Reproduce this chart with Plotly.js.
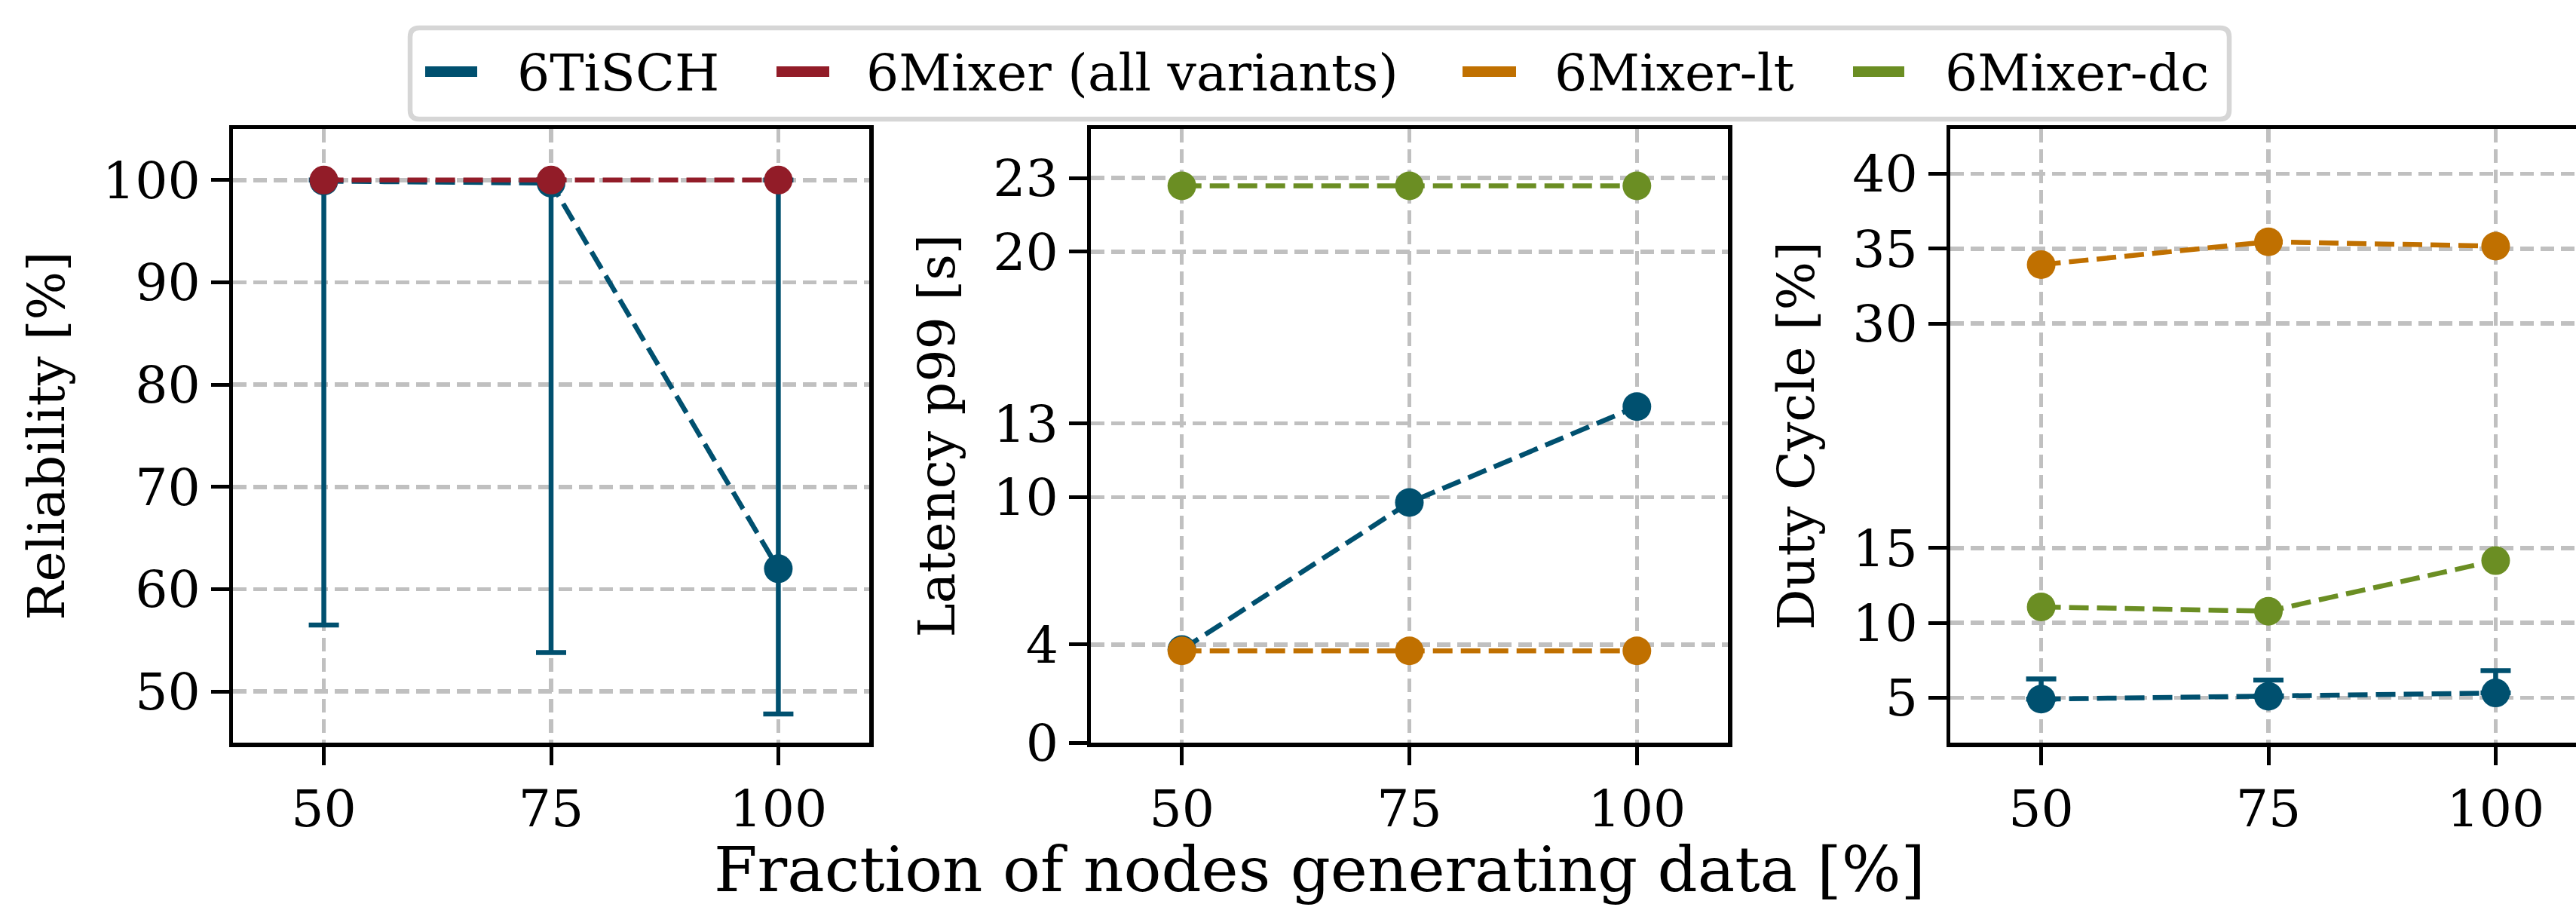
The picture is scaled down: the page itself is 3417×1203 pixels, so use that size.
<!DOCTYPE html>
<html>
<head>
<meta charset="utf-8">
<script src="https://cdn.plot.ly/plotly-3.0.1.min.js"></script>
<style>
html, body { margin: 0; padding: 0; overflow: hidden; background: #fff; }
#chart { width: 3440px; height: 1203px; }
</style>
</head>
<body>
<div id="chart"></div>
<script>
// ---- data ----
const fraction = [50, 75, 100];

const seriesNames = ["6TiSCH", "6Mixer (all variants)", "6Mixer-lt", "6Mixer-dc"];

// Reliability [%]
const relTisch = [99.9, 99.7, 62.0];
const relTischLow = [56.5, 53.8, 47.8];
const relTischHigh = [100, 100, 100];
const relMixer = [100, 100, 100];

// Latency p99 [s]
const latTisch = [3.79, 9.78, 13.69];
const latMixerLt = [3.74, 3.74, 3.74];
const latMixerDc = [22.68, 22.68, 22.68];

// Duty cycle [%]
const dutyTisch = [4.91, 5.10, 5.32];
const dutyTischHigh = [6.26, 6.18, 6.81];
const dutyMixerLt = [33.93, 35.46, 35.17];
const dutyMixerDc = [11.07, 10.78, 14.16];

// tick labels
const relTicks = [50, 60, 70, 80, 90, 100];
const latTicks = [0, 4, 10, 13, 20, 23];
const dutyTicks = [5, 10, 15, 30, 35, 40];

const yTitles = ["Reliability [%]", "Latency p99 [s]", "Duty Cycle [%]"];
const xTitle = "Fraction of nodes generating data [%]";

// ---- style ----
const colors = {"6TiSCH": "#00506F", "6Mixer (all variants)": "#921C28", "6Mixer-lt": "#C07000", "6Mixer-dc": "#6B8E23"};
const FONT = "DejaVu Serif";
const W = 3440, H = 1203;
const px = v => v / W;            // horizontal pixel -> paper
const py = v => 1 - v / H;        // vertical pixel (from top) -> paper
const dx = (a, b) => [px(a), px(b)];
const dy = (top, bottom) => [py(bottom), py(top)];

function series(x, y, name, xa, ya, extra) {
  const t = {
    x: x, y: y, name: name, xaxis: xa, yaxis: ya, type: "scatter",
    mode: "lines+markers", showlegend: false,
    line: {color: colors[name], width: 6.5, dash: "26px,11px"},
    marker: {color: colors[name], size: 38}
  };
  return Object.assign(t, extra || {});
}

const relErr = {
  type: "data", symmetric: false,
  array: relTisch.map((v, i) => relTischHigh[i] - v),
  arrayminus: relTisch.map((v, i) => v - relTischLow[i]),
  color: colors["6TiSCH"], thickness: 6.5, width: 20
};
const dutyErr = {
  type: "data", symmetric: false,
  array: dutyTisch.map((v, i) => dutyTischHigh[i] - v),
  arrayminus: dutyTisch.map(() => 0),
  color: colors["6TiSCH"], thickness: 6.5, width: 20
};

const traces = [
  series(fraction, relTisch, "6TiSCH", "x", "y", {error_y: relErr}),
  series(fraction, relMixer, "6Mixer (all variants)", "x", "y"),
  series(fraction, latTisch, "6TiSCH", "x2", "y2"),
  series(fraction, latMixerLt, "6Mixer-lt", "x2", "y2"),
  series(fraction, latMixerDc, "6Mixer-dc", "x2", "y2"),
  series(fraction, dutyTisch, "6TiSCH", "x3", "y3", {error_y: dutyErr}),
  series(fraction, dutyMixerLt, "6Mixer-lt", "x3", "y3"),
  series(fraction, dutyMixerDc, "6Mixer-dc", "x3", "y3")
];

function xax(domain) {
  return {
    domain: domain, range: [40, 110], tickvals: fraction, ticktext: fraction.map(String),
    showline: true, linecolor: "black", linewidth: 5.5, mirror: true,
    ticks: "outside", ticklen: 24, tickwidth: 5, tickcolor: "black",
    showgrid: true, gridcolor: "#c0c0c0", gridwidth: 5.5, griddash: "18px,9px",
    zeroline: false, tickfont: {family: FONT, size: 68, color: "black"}
  };
}
function yax(domain, range, ticks, title, anchor) {
  return {
    domain: domain, range: range, tickvals: ticks, ticktext: ticks.map(String), anchor: anchor,
    showline: true, linecolor: "black", linewidth: 5.5, mirror: true,
    ticks: "outside", ticklen: 24, tickwidth: 5, tickcolor: "black",
    showgrid: true, gridcolor: "#c0c0c0", gridwidth: 5.5, griddash: "18px,9px",
    zeroline: false, tickfont: {family: FONT, size: 68, color: "black"},
    title: {text: title, font: {family: FONT, size: 68, color: "black"}, standoff: 30}
  };
}

// ---- legend (frame, handles, labels) ----
const legBox = {x0: 544, x1: 2957, y0: 37, y1: 158, r: 12};
const legHandleX = [[564, 633], [1030, 1100], [1940, 2011], [2458, 2526]];
const legTextX = [685, 1148, 2061, 2579];
const legY = 95;

function roundRectPath(b) {
  const P = (x, y) => px(x) + "," + py(y);
  return "M" + P(b.x0 + b.r, b.y0) + " L" + P(b.x1 - b.r, b.y0) +
    " Q" + P(b.x1, b.y0) + " " + P(b.x1, b.y0 + b.r) +
    " L" + P(b.x1, b.y1 - b.r) + " Q" + P(b.x1, b.y1) + " " + P(b.x1 - b.r, b.y1) +
    " L" + P(b.x0 + b.r, b.y1) + " Q" + P(b.x0, b.y1) + " " + P(b.x0, b.y1 - b.r) +
    " L" + P(b.x0, b.y0 + b.r) + " Q" + P(b.x0, b.y0) + " " + P(b.x0 + b.r, b.y0) + " Z";
}

const shapes = [{
  type: "path", xref: "paper", yref: "paper", path: roundRectPath(legBox),
  line: {color: "#d6d6d6", width: 6.5}, fillcolor: "white", layer: "above"
}];
const annotations = [];
seriesNames.forEach((n, i) => {
  shapes.push({
    type: "line", xref: "paper", yref: "paper",
    x0: px(legHandleX[i][0]), x1: px(legHandleX[i][1]), y0: py(legY), y1: py(legY),
    line: {color: colors[n], width: 14}, layer: "above"
  });
  annotations.push({
    text: n, xref: "paper", yref: "paper", x: px(legTextX[i]), y: py(legY + 1),
    xanchor: "left", yanchor: "middle", showarrow: false, borderpad: 0,
    font: {family: FONT, size: 68, color: "black"}
  });
});
annotations.push({
  text: xTitle, xref: "paper", yref: "paper", x: px(1750), y: py(1153),
  xanchor: "center", yanchor: "middle", showarrow: false, borderpad: 0,
  font: {family: FONT, size: 83, color: "black"}
});

const ydom = dy(171, 985);
const layout = {
  width: W, height: H,
  margin: {l: 0, r: 0, t: 0, b: 0},
  paper_bgcolor: "white", plot_bgcolor: "white",
  font: {family: FONT, color: "black"},
  showlegend: false,
  xaxis: Object.assign(xax(dx(309, 1153)), {anchor: "y"}),
  xaxis2: Object.assign(xax(dx(1447, 2292)), {anchor: "y2"}),
  xaxis3: Object.assign(xax(dx(2587, 3431)), {anchor: "y3"}),
  yaxis: yax(ydom, [45, 105], relTicks, yTitles[0], "x"),
  yaxis2: yax(ydom, [0, 25], latTicks, yTitles[1], "x2"),
  yaxis3: yax(ydom, [2, 43], dutyTicks, yTitles[2], "x3"),
  shapes: shapes,
  annotations: annotations
};

Plotly.newPlot("chart", traces, layout, {staticPlot: true, displayModeBar: false});
</script>
</body>
</html>
